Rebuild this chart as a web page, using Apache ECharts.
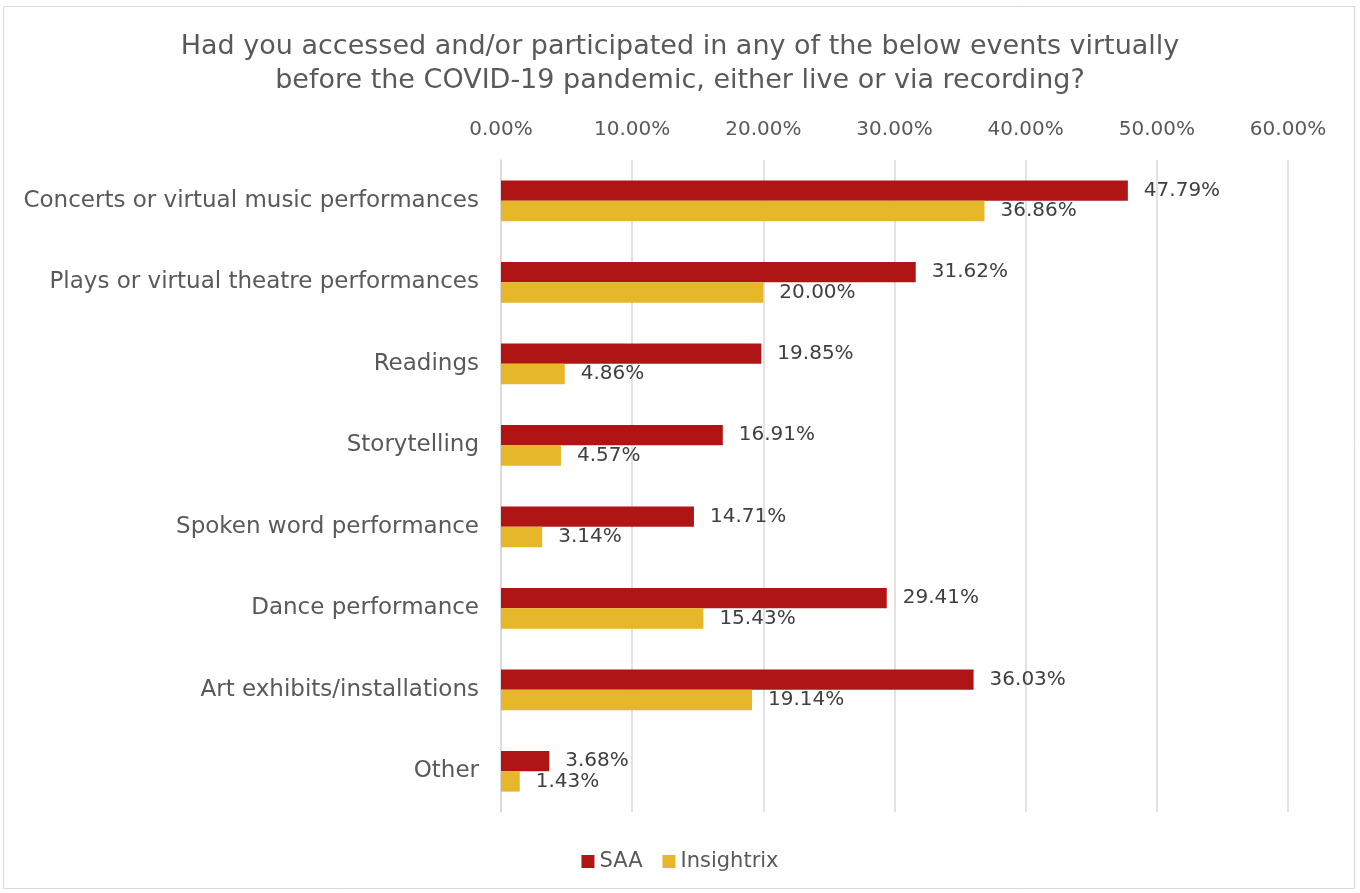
<!DOCTYPE html>
<html>
<head>
<meta charset="utf-8">
<script src="https://cdn.jsdelivr.net/npm/echarts@6/dist/echarts.min.js"></script>
<style>
  html, body { margin: 0; padding: 0; background: #fff; }
  #chart { width: 1360px; height: 893px; }
</style>
</head>
<body>
<div id="chart"></div>
<script>
const categories = [
  'Concerts or virtual music performances',
  'Plays or virtual theatre performances',
  'Readings',
  'Storytelling',
  'Spoken word performance',
  'Dance performance',
  'Art exhibits/installations',
  'Other'
];
const saaValues = [47.79, 31.62, 19.85, 16.91, 14.71, 29.41, 36.03, 3.68];
const insightrixValues = [36.86, 20.00, 4.86, 4.57, 3.14, 15.43, 19.14, 1.43];
const seriesNames = ['SAA', 'Insightrix'];
const titleText = 'Had you accessed and/or participated in any of the below events virtually\nbefore the COVID-19 pandemic, either live or via recording?';

const FONT = 'DejaVu Sans';
const chart = echarts.init(document.getElementById('chart'));

const pct = v => v.toFixed(2) + '%';

chart.setOption({
  backgroundColor: '#fff',
  animation: false,
  textStyle: { fontFamily: FONT },
  graphic: [{
    type: 'rect',
    shape: { x: 3.5, y: 6.5, width: 1351, height: 882 },
    style: { fill: 'none', stroke: '#d9d9d9', lineWidth: 1 },
    silent: true
  }],
  title: {
    text: titleText,
    left: 'center',
    top: 25,
    textStyle: { fontFamily: FONT, fontSize: 27, fontWeight: 'normal', color: '#595959', lineHeight: 34 }
  },
  legend: {
    data: seriesNames,
    bottom: 16,
    left: 'center',
    icon: 'rect',
    itemWidth: 13,
    itemHeight: 13,
    itemGap: 20,
    textStyle: { fontFamily: FONT, fontSize: 21, color: '#595959' }
  },
  grid: { left: 501, right: 72, top: 160, bottom: 81, containLabel: false },
  xAxis: {
    type: 'value',
    position: 'top',
    min: 0,
    max: 60,
    interval: 10,
    axisLine: { show: false },
    axisTick: { show: false },
    axisLabel: { formatter: pct, fontFamily: FONT, fontSize: 20, color: '#595959', margin: 20 },
    splitLine: { lineStyle: { color: '#d9d9d9', width: 1.5 } }
  },
  yAxis: {
    type: 'category',
    data: categories,
    inverse: true,
    axisLine: { show: true, lineStyle: { color: '#d9d9d9', width: 1.5 } },
    axisTick: { show: false },
    axisLabel: { fontFamily: FONT, fontSize: 23, color: '#595959', margin: 22 }
  },
  series: [
    {
      name: seriesNames[0],
      type: 'bar',
      data: saaValues,
      barGap: '0%',
      barCategoryGap: '50%',
      itemStyle: { color: '#B01515' },
      label: { show: true, position: 'right', distance: 16, formatter: p => pct(p.value), fontFamily: FONT, fontSize: 20, color: '#404040' }
    },
    {
      name: seriesNames[1],
      type: 'bar',
      data: insightrixValues,
      barGap: '0%',
      barCategoryGap: '50%',
      itemStyle: { color: '#E6B72A' },
      label: { show: true, position: 'right', distance: 16, formatter: p => pct(p.value), fontFamily: FONT, fontSize: 20, color: '#404040' }
    }
  ]
});
</script>
</body>
</html>
